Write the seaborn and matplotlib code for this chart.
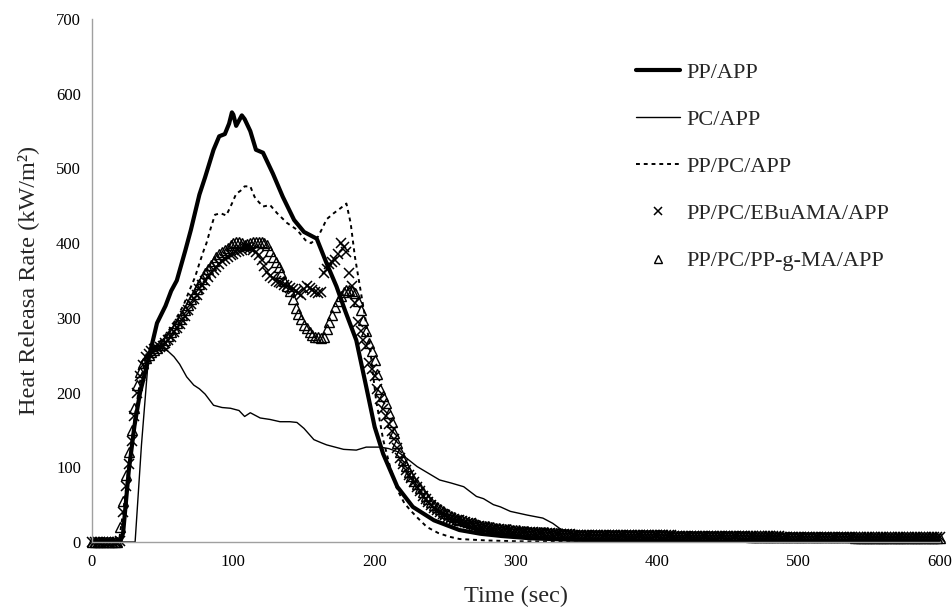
import numpy as np
import pandas as pd
import matplotlib
matplotlib.use("Agg")
import matplotlib.pyplot as plt
import seaborn as sns

# ---------------- data ----------------
# PP/APP (thick solid line)
t_pp = [0, 20, 22, 26, 30, 34, 40, 46, 52, 56, 60, 66, 70, 76, 80, 86, 90, 94, 97, 99,
        100, 102, 104, 106, 108, 112, 116, 121, 128, 135, 143, 150, 159, 166, 173, 179,
        187, 194, 200, 206, 216, 227, 242, 260, 275, 290, 310, 340, 380, 450, 500, 550, 600]
y_pp = [0, 0, 12, 95, 155, 200, 245, 293, 316, 336, 350, 390, 418, 465, 488, 525, 543, 546, 560, 575,
        572, 557, 564, 571, 566, 550, 525, 521, 493, 462, 431, 415, 406, 373, 342, 310,
        270, 208, 154, 118, 74, 47, 29, 16, 11, 8, 5, 3, 2, 0, 0, 1, 1]

# PC/APP (thin solid line)
t_pc = [0, 30.5, 35, 40, 44, 48, 50, 54, 58, 62, 67, 72, 76, 80, 86, 92, 98, 104, 108, 112,
        119, 126, 133, 140, 145, 150, 157, 162, 166, 172, 178, 187, 194, 204, 210, 216, 222,
        230, 238, 246, 254, 263, 272, 277, 284, 289, 296, 308, 319, 326, 331, 336, 345, 380,
        450, 520, 600]
y_pc = [0, 0, 130, 248, 255, 259, 260, 255, 248, 238, 221, 210, 205, 198, 183, 180, 179, 176, 168, 173,
        166, 164, 161, 161, 160, 152, 137, 133, 130, 127, 124, 123, 127, 127, 125, 121, 113,
        101, 92, 83, 79, 74, 61, 58, 50, 47, 41, 36, 32, 25, 18, 14, 10, 7,
        5, 3, 2]

# PP/PC/APP (dotted line)
t_ppc = [0, 19, 22, 26, 30, 34, 38, 42, 48, 54, 60, 65, 69, 73, 76, 79, 81, 84, 87, 91,
         95, 97, 99, 102, 105, 108, 112, 115, 118, 121, 126, 131, 138, 145, 151, 155, 158,
         160, 163, 166, 171, 176, 180, 183, 186, 190, 196, 201, 206, 211, 216, 221, 225,
         230, 237, 245, 253, 260, 270, 280, 300, 350, 400, 500, 600]
y_ppc = [0, 0, 40, 100, 165, 215, 245, 258, 268, 282, 300, 318, 337, 355, 373, 390, 400, 420, 438, 440,
         437, 445, 453, 466, 470, 476, 476, 462, 455, 449, 451, 440, 427, 418, 404, 400, 405,
         409, 420, 432, 440, 447, 453, 427, 382, 337, 270, 190, 137, 100, 70, 52, 43,
         33, 20, 12, 7, 4, 3, 2, 1, 0, 0, 0, 0]

# marker series: one reading every 2 s from 0 to 600 (rows of 10 readings = 20 s)
t_mk = list(range(0, 601, 2))
y_ebu = [0, 0, 0, 0, 0, 0, 0, 0, 0, 0,                      # 0-18
         2, 40, 75, 105, 135, 168, 200, 222, 237, 248,        # 20-38
         252, 256, 258, 260, 261, 263, 266, 270, 275, 281,    # 40-58
         287, 292, 297, 303, 310, 318, 325, 331, 338, 344,    # 60-78
         350, 355, 360, 364, 368, 372, 376, 379, 382, 384,    # 80-98
         386, 388, 389, 391, 393, 395, 394, 391, 388, 384,    # 100-118
         378, 370, 362, 356, 353, 350, 348, 346, 344, 342,    # 120-138
         340, 338, 336, 333, 331, 338, 342, 340, 337, 335,    # 140-158
         333, 334, 360, 366, 372, 375, 378, 385, 400, 395,    # 160-178
         388, 360, 342, 320, 295, 282, 270, 262, 240, 232,    # 180-198
         222, 205, 192, 178, 168, 158, 148, 138, 126, 112,    # 200-218
         104, 97, 90, 85, 80, 74, 68, 62, 57, 53,             # 220-238
         49, 46, 43, 40, 38, 36, 34, 32, 31, 30,              # 240-258
         29, 28, 27, 26, 25, 23, 22, 21, 20, 20,              # 260-278
         19, 18, 18, 17, 17, 16, 16, 15, 15, 14,              # 280-298
         14, 14, 14, 13, 13, 13, 13, 12, 12, 12,              # 300-318
         12, 12, 12, 11, 11, 11, 11, 11, 11, 11,              # 320-338
         10, 10, 10, 10, 10, 10, 10, 10, 10, 10,              # 340-358
         10, 10, 10, 10, 10, 10, 9, 9, 9, 9,                  # 360-378
         9, 9, 9, 9, 9, 9, 9, 9, 9, 9,                        # 380-398
         9, 9, 9, 9, 9, 9, 8, 8, 8, 8,                        # 400-418
         8, 8, 8, 8, 8, 8, 8, 8, 8, 8,                        # 420-438
         8, 8, 8, 8, 8, 8, 8, 8, 8, 8,                        # 440-458
         8, 8, 8, 8, 8, 8, 8, 8, 8, 8,                        # 460-478
         8, 8, 8, 8, 7, 7, 7, 7, 7, 7,                        # 480-498
         7, 7, 7, 7, 7, 7, 7, 7, 7, 7,                        # 500-518
         7, 7, 7, 7, 7, 7, 7, 7, 7, 7,                        # 520-538
         7, 7, 7, 7, 7, 7, 7, 7, 7, 7,                        # 540-558
         7, 7, 7, 7, 7, 7, 7, 7, 7, 7,                        # 560-578
         7, 7, 7, 7, 7, 7, 7, 7, 7, 7,                        # 580-598
         7]                                                   # 600
y_ppg = [0, 0, 0, 0, 0, 0, 0, 0, 0, 0,                      # 0-18
         20, 55, 90, 120, 150, 180, 210, 228, 240, 246,       # 20-38
         250, 254, 257, 260, 264, 267, 271, 276, 281, 287,    # 40-58
         293, 298, 304, 310, 317, 325, 332, 338, 345, 352,    # 60-78
         360, 366, 371, 376, 381, 385, 388, 391, 394, 397,    # 80-98
         400, 402, 402, 400, 398, 399, 400, 401, 402, 402,    # 100-118
         401, 400, 397, 390, 382, 375, 368, 360, 350, 342,    # 120-138
         336, 325, 313, 305, 298, 291, 286, 281, 277, 275,    # 140-158
         274, 273, 275, 285, 294, 304, 314, 322, 329, 334,    # 160-178
         337, 337, 336, 333, 322, 310, 297, 282, 266, 255,    # 180-198
         244, 225, 205, 195, 186, 172, 160, 146, 132, 120,    # 200-218
         110, 102, 94, 88, 82, 77, 72, 67, 62, 58,            # 220-238
         54, 50, 47, 44, 41, 39, 37, 35, 33, 31,              # 240-258
         30, 29, 28, 27, 26, 25, 24, 23, 22, 21,              # 260-278
         21, 20, 20, 19, 19, 18, 18, 17, 17, 16,              # 280-298
         16, 16, 15, 15, 15, 14, 14, 14, 14, 13,              # 300-318
         13, 13, 12, 12, 12, 12, 11, 11, 11, 11,              # 320-338
         11, 10, 10, 10, 10, 10, 10, 10, 10, 10,              # 340-358
         10, 10, 10, 9, 9, 9, 9, 9, 9, 9,                     # 360-378
         9, 9, 9, 9, 9, 9, 9, 9, 9, 9,                        # 380-398
         9, 9, 9, 8, 8, 8, 8, 8, 8, 8,                        # 400-418
         8, 8, 8, 8, 8, 8, 8, 8, 8, 8,                        # 420-438
         8, 8, 8, 8, 8, 8, 8, 8, 8, 8,                        # 440-458
         8, 8, 8, 7, 7, 7, 7, 7, 7, 7,                        # 460-478
         7, 7, 7, 7, 7, 7, 7, 7, 7, 7,                        # 480-498
         7, 7, 7, 7, 7, 7, 7, 7, 7, 7,                        # 500-518
         7, 7, 7, 7, 7, 7, 7, 7, 7, 7,                        # 520-538
         6, 6, 6, 6, 6, 6, 6, 6, 6, 6,                        # 540-558
         6, 6, 6, 6, 6, 6, 6, 6, 6, 6,                        # 560-578
         6, 6, 6, 6, 6, 6, 6, 6, 6, 6,                        # 580-598
         6]                                                   # 600

labels = ["PP/APP", "PC/APP", "PP/PC/APP", "PP/PC/EBuAMA/APP", "PP/PC/PP-g-MA/APP"]
x_ticks = [0, 100, 200, 300, 400, 500, 600]
y_ticks = [0, 100, 200, 300, 400, 500, 600, 700]

# ---------------- style ----------------
sns.set_style("white")
plt.rcParams["font.family"] = ["Liberation Serif", "DejaVu Serif"]

fig = plt.figure(figsize=(9.53, 6.07), dpi=100)
ax = fig.add_axes([92 / 953, 65 / 607, 848 / 953, 523 / 607])

sns.lineplot(x=t_pp, y=y_pp, ax=ax, color="black", linewidth=3.0, estimator=None,
             sort=False, label=labels[0])
sns.lineplot(x=t_pc, y=y_pc, ax=ax, color="black", linewidth=1.0, estimator=None,
             sort=False, label=labels[1])
sns.lineplot(x=t_ppc, y=y_ppc, ax=ax, color="black", linewidth=1.4, estimator=None,
             sort=False, linestyle=(0, (2, 2)), label=labels[2])
sns.lineplot(x=t_mk, y=y_ebu, ax=ax, color="black", linestyle="none", marker="x",
             markersize=7, markeredgewidth=1.1, markeredgecolor="black",
             estimator=None, sort=False, label=labels[3], clip_on=False)
sns.lineplot(x=t_mk, y=y_ppg, ax=ax, color="black", linestyle="none", marker="^",
             markersize=6.5, markeredgewidth=1.0, markerfacecolor="none",
             markeredgecolor="black", estimator=None, sort=False,
             label=labels[4], clip_on=False)

ax.set_xlim(0, 600)
ax.set_ylim(0, 700)
ax.set_xticks(x_ticks)
ax.set_yticks(y_ticks)
ax.tick_params(axis="both", labelsize=12, colors="#a0a0a0", labelcolor="black",
               direction="out", length=4, width=1)
ax.tick_params(axis="y", pad=4)
ax.tick_params(axis="x", pad=5)
for s in ["top", "right"]:
    ax.spines[s].set_visible(False)
for s in ["left", "bottom"]:
    ax.spines[s].set_color("#a0a0a0")
    ax.spines[s].set_linewidth(1.0)

ax.set_xlabel("Time (sec)", fontsize=17.5, labelpad=11)
ax.set_ylabel("Heat Releasa Rate (kW/m²)", fontsize=17.5, labelpad=12)

handles, labs = ax.get_legend_handles_labels()
ax.legend(handles, labs, loc="upper left", bbox_to_anchor=(636 / 953, 1 - 62 / 607),
          bbox_transform=fig.transFigure, frameon=False, fontsize=16,
          handlelength=2.0, handletextpad=0.25, labelspacing=1.2, borderpad=0,
          borderaxespad=0, markerscale=0.8)

fig.savefig("out.png", dpi=100)
